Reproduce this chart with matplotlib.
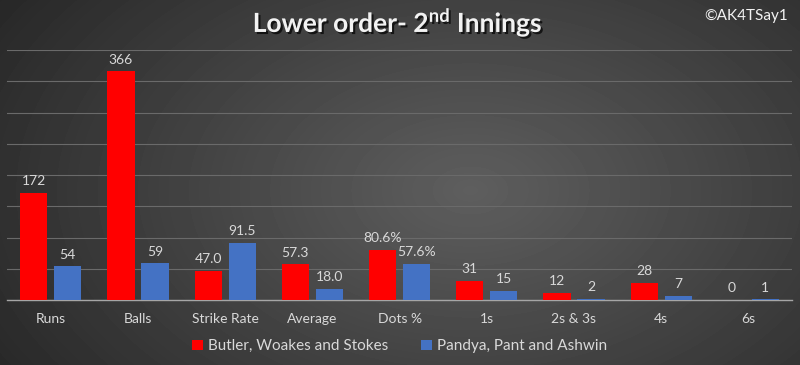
import numpy as np
import matplotlib.pyplot as plt
import matplotlib.patheffects as pe

plt.rcParams['font.family'] = ['Lato', 'DejaVu Sans']
plt.rcParams['mathtext.fontset'] = 'custom'
plt.rcParams['mathtext.bf'] = 'Lato:bold'
plt.rcParams['mathtext.rm'] = 'Lato'

categories = ['Runs', 'Balls', 'Strike Rate', 'Average', 'Dots %', '1s', '2s & 3s', '4s', '6s']
butler = [172, 366, 47.0, 57.3, 80.6, 31, 12, 28, 0]
pandya = [54, 59, 91.5, 18.0, 57.6, 15, 2, 7, 1]
butler_labels = ['172', '366', '47.0', '57.3', '80.6%', '31', '12', '28', '0']
pandya_labels = ['54', '59', '91.5', '18.0', '57.6%', '15', '2', '7', '1']

fig = plt.figure(figsize=(8, 3.65), dpi=100)

# radial grey background
bg = fig.add_axes([0, 0, 1, 1], zorder=0)
yy, xx = np.mgrid[0:365, 0:800]
r = np.sqrt(((xx - 470) / 520.0) ** 2 + ((yy - 190) / 330.0) ** 2)
shade = np.clip(0.37 - 0.20 * r, 0.15, 0.37)
bg.imshow(shade, cmap='gray', vmin=0, vmax=1, aspect='auto', extent=[0, 1, 0, 1])
bg.axis('off')

ax = fig.add_axes([0.009, 0.178, 0.981, 0.685], zorder=1)
ax.patch.set_alpha(0)

x = np.arange(len(categories))
w = 0.31
gap = 0.04
b1 = ax.bar(x - w / 2 - gap, butler, w, color='#ff0000', label='Butler, Woakes and Stokes', zorder=3)
b2 = ax.bar(x + w / 2 + gap, pandya, w, color='#4472c4', label='Pandya, Pant and Ashwin', zorder=3)

for bars, labels in [(b1, butler_labels), (b2, pandya_labels)]:
    for rect, lab in zip(bars, labels):
        ax.annotate(lab, (rect.get_x() + rect.get_width() / 2, rect.get_height()),
                    xytext=(0, 4), textcoords='offset points', ha='center', va='bottom',
                    color='#d9d9d9', fontsize=10)

ax.set_xlim(-0.5, len(categories) - 0.5)
ax.set_ylim(0, 400)
ax.set_yticks(np.arange(0, 401, 50))
ax.yaxis.grid(True, color='#6a6a6a', linewidth=0.8, zorder=0)
ax.tick_params(axis='y', left=False, labelleft=False)
ax.tick_params(axis='x', bottom=False, colors='#d9d9d9', labelsize=10, pad=6)
ax.set_xticks(x)
ax.set_xticklabels(categories)
for s in ['top', 'right', 'left']:
    ax.spines[s].set_visible(False)
ax.spines['bottom'].set_color('#a6a6a6')
ax.spines['bottom'].set_linewidth(1.0)

leg = ax.legend(loc='center', bbox_to_anchor=(0.5, -0.185), ncol=2, frameon=False,
                fontsize=11, handlelength=0.7, handleheight=0.7, handletextpad=0.3,
                columnspacing=2.2, labelcolor='#d9d9d9')

fig.text(0.497, 0.94, r'Lower order- 2$^{\mathbf{nd}}$ Innings', ha='center', va='center',
         color='#f2f2f2', fontsize=19, fontweight='bold',
         path_effects=[pe.withSimplePatchShadow(offset=(1.5, -1.5), shadow_rgbFace='black', alpha=0.7)])
fig.text(0.985, 0.955, '©AK4TSay1', ha='right', va='center', color='#f2f2f2', fontsize=11)

fig.savefig('out.png', dpi=100)
